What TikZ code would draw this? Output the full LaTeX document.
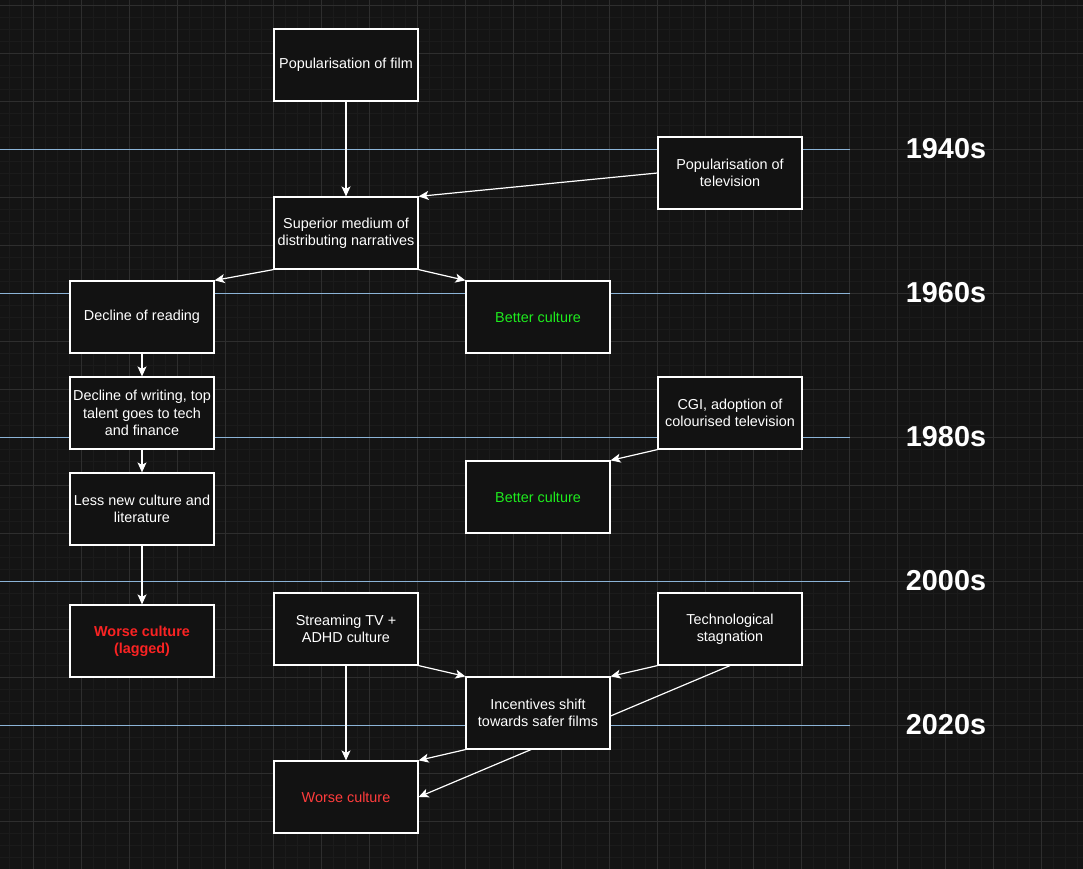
\documentclass[tikz,border=0pt]{standalone}
\usepackage{fontspec}
\setmainfont{Liberation Sans}
\usetikzlibrary{arrows.meta}
\definecolor{canvas}{RGB}{20,20,20}
\definecolor{minorgrid}{RGB}{27,27,27}
\definecolor{majorgrid}{RGB}{46,46,46}
\definecolor{boxfill}{RGB}{18,18,18}
\definecolor{eraline}{RGB}{140,180,215}
\definecolor{goodtext}{RGB}{30,235,30}
\definecolor{badtext}{RGB}{250,35,35}
\definecolor{badlight}{RGB}{255,60,60}
\pgfdeclarelayer{grid}
\pgfdeclarelayer{edges}
\pgfsetlayers{grid,edges,main}

\begin{document}
\begin{tikzpicture}[x=1pt,y=-1pt,
  box/.style={draw=white, line width=1.2pt, fill=boxfill, text=white,
    minimum width=144pt, minimum height=72pt, inner sep=0pt, align=center,
    font=\fontsize{14.4}{17.3}\selectfont},
  link/.style={draw=white, line width=1.2pt, -{Stealth[length=10pt,width=9pt,inset=2.5pt]}},
  decade/.style={text=white, font=\fontsize{28.8}{34}\selectfont\bfseries},
  era/.style={draw=eraline, line width=0.8pt}]
  \useasboundingbox (0,0) rectangle (1083,869);
  \begin{pgfonlayer}{grid}
    \fill[canvas] (0,0) rectangle (1083,869);
    \foreach \x in {9,21,...,1083} \draw[minorgrid, line width=0.8pt] (\x,0) -- (\x,869);
    \foreach \y in {5,17,...,869} \draw[minorgrid, line width=0.8pt] (0,\y) -- (1083,\y);
    \foreach \x in {33,81,...,1083} \draw[majorgrid, line width=0.8pt] (\x,0) -- (\x,869);
    \foreach \y in {5,53,...,869} \draw[majorgrid, line width=0.8pt] (0,\y) -- (1083,\y);
    % decade markers
    \foreach \yr/\y in {1940s/149,1960s/293,1980s/437,2000s/581,2020s/725}{
      \draw[era] (0,\y) -- (850,\y);
      \node[decade] (dec\yr) at (946,\y) {\yr};
    }
  \end{pgfonlayer}

  \node[box] (film) at (346,65) {Popularisation of film};
  \node[box] (tv) at (730,173) {Popularisation of\\television};
  \node[box] (medium) at (346,233) {Superior medium of\\distributing narratives};
  \node[box] (reading) at (142,317) {Decline of reading};
  \node[box, text=goodtext] (better) at (538,317) {Better culture};
  \node[box] (writing) at (142,413) {Decline of writing, top\\talent goes to tech\\and finance};
  \node[box] (cgi) at (730,413) {CGI, adoption of\\colourised television};
  \node[box] (lessnew) at (142,509) {Less new culture and\\literature};
  \node[box, text=goodtext] (betteragain) at (538,497) {Better culture};
  \node[box, text=badtext, font=\fontsize{14.4}{17.3}\selectfont\bfseries] (lagged) at (142,641) {Worse culture\\(lagged)};
  \node[box] (streaming) at (346,629) {Streaming TV +\\ADHD culture};
  \node[box] (stagnation) at (730,629) {Technological\\stagnation};
  \node[box] (incentives) at (538,713) {Incentives shift\\towards safer films};
  \node[box, text=badlight] (worse) at (346,797) {Worse culture};

  \begin{pgfonlayer}{edges}
    \draw[link] (film) -- (medium);
    \draw[link] (tv.west) -- (medium.north east);
    \draw[link] (medium.south west) -- (reading.north east);
    \draw[link] (medium.south east) -- (better.north west);
    \draw[link] (reading) -- (writing);
    \draw[link] (writing) -- (lessnew);
    \draw[link] (cgi.south west) -- (betteragain.north east);
    \draw[link] (lessnew) -- (lagged);
    \draw[link] (streaming.south east) -- (incentives.north west);
    \draw[link] (streaming) -- (worse);
    \draw[link] (stagnation.south west) -- (incentives.north east);
    \draw[link] (stagnation.south) -- (worse.east);
    \draw[link] (incentives.south west) -- (worse.north east);
  \end{pgfonlayer}
\end{tikzpicture}
\end{document}
